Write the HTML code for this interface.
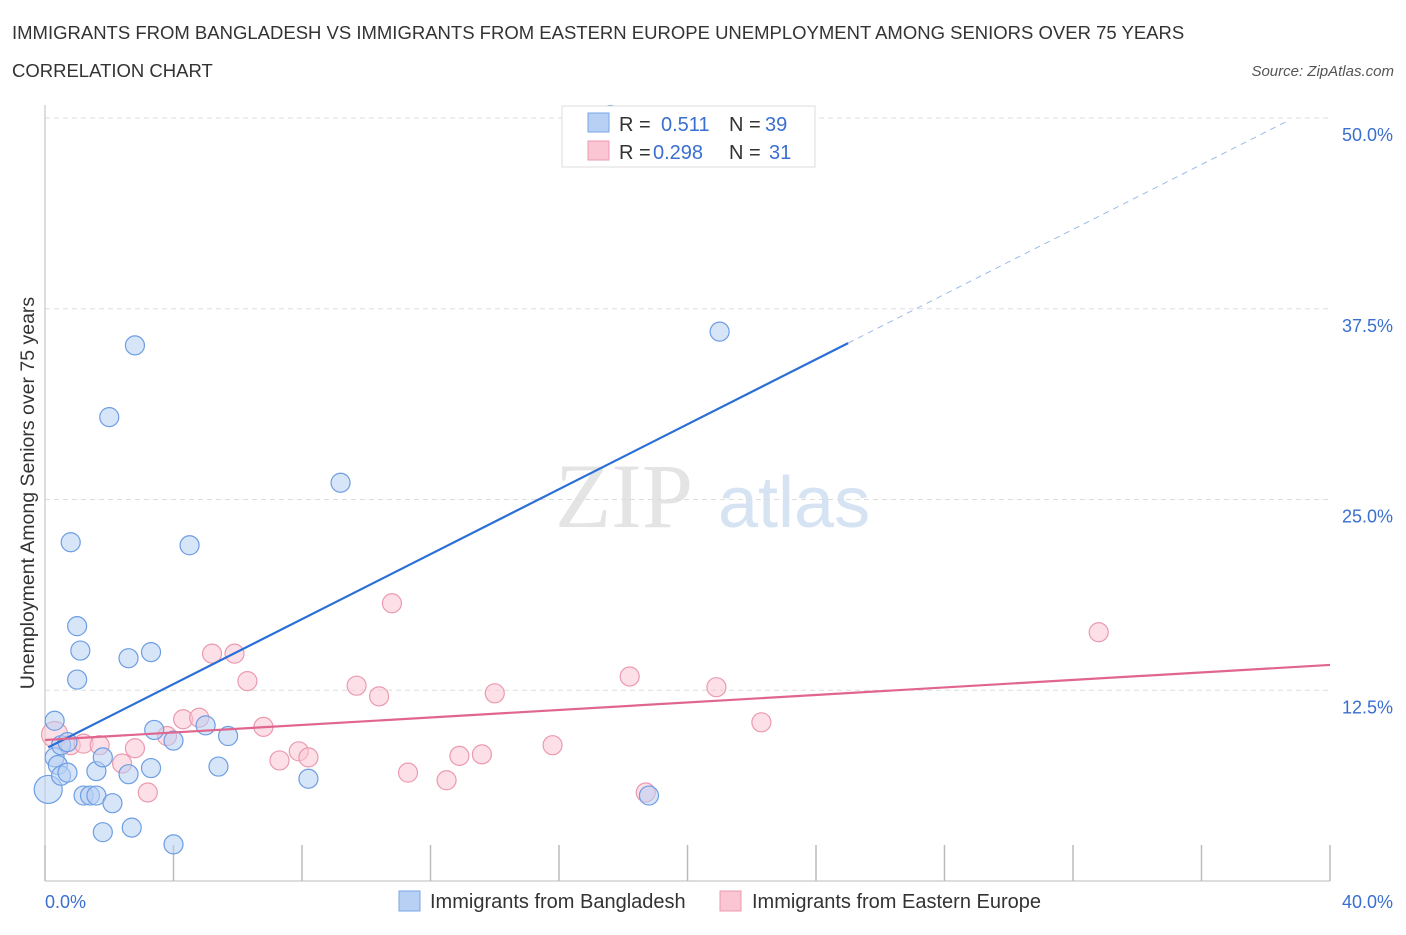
<!DOCTYPE html>
<html><head><meta charset="utf-8"><style>
body{margin:0;background:#fff;font-family:"Liberation Sans",sans-serif;}
</style></head><body>
<svg width="1406" height="930" viewBox="0 0 1406 930" xmlns="http://www.w3.org/2000/svg" font-family="Liberation Sans, sans-serif">
<text x="12" y="39" font-size="18.5" fill="#333">IMMIGRANTS FROM BANGLADESH VS IMMIGRANTS FROM EASTERN EUROPE UNEMPLOYMENT AMONG SENIORS OVER 75 YEARS</text>
<text x="12" y="77" font-size="18.5" fill="#333">CORRELATION CHART</text>
<text x="1394" y="76" font-size="15" font-style="italic" fill="#555" text-anchor="end">Source: ZipAtlas.com</text>
<g><text x="555" y="527" font-size="92" font-family="Liberation Serif, serif" fill="#e4e4e4">ZIP</text><text x="718" y="527" font-size="72" fill="#d6e3f3">atlas</text></g>
<g id="grid"></g>
<g id="axes"></g>
<g id="marks"></g>
<text transform="translate(34,493) rotate(-90)" font-size="19.5" fill="#333" text-anchor="middle">Unemployment Among Seniors over 75 years</text>
<g>
<rect x="562" y="106" width="253" height="61" fill="#fff" stroke="#ddd"/>
<rect x="588" y="113" width="21" height="19" fill="#b7d0f4" stroke="#7aa6e6"/>
<rect x="588" y="141" width="21" height="19" fill="#fbc6d4" stroke="#eb9ab0"/>
<text x="619" y="131" font-size="20" fill="#333">R = </text><text x="661" y="131" font-size="20" fill="#3a6fd0">0.511</text>
<text x="729" y="131" font-size="20" fill="#333">N = </text><text x="765" y="131" font-size="20" fill="#3a6fd0">39</text>
<text x="619" y="159" font-size="20" fill="#333">R = </text><text x="653" y="159" font-size="20" fill="#3a6fd0">0.298</text>
<text x="729" y="159" font-size="20" fill="#333">N = </text><text x="769" y="159" font-size="20" fill="#3a6fd0">31</text>
</g>
<g>
<rect x="399" y="891" width="21" height="20" fill="#b7d0f4" stroke="#7aa6e6"/>
<text x="430" y="908" font-size="20" fill="#333">Immigrants from Bangladesh</text>
<rect x="720" y="891" width="21" height="20" fill="#fbc6d4" stroke="#eb9ab0"/>
<text x="752" y="908" font-size="20" fill="#333">Immigrants from Eastern Europe</text>
</g>
<script>
const yTicks=[12.5,25,37.5,50];
const yTickLabels=["12.5%","25.0%","37.5%","50.0%"];
const xTickCount=[0,4,8,12,16,20,24,28,32,36,40];
const xLabels=["0.0%","40.0%"];
const blueX=[0.1,0.3,0.3,0.5,0.7,0.4,0.5,0.7,0.8,1.0,1.1,1.0,2.0,2.8,1.6,1.8,1.2,1.4,1.6,2.1,1.8,2.7,2.6,2.6,3.3,3.3,3.4,4.0,4.0,4.5,5.0,5.4,5.7,8.2,9.2,18.8,21.0,17.6];
const blueY=[6.0,10.5,8.1,8.9,9.1,7.6,6.9,7.1,22.2,16.7,15.1,13.2,30.4,35.1,7.2,8.1,5.6,5.6,5.6,5.1,3.2,3.5,7.0,14.6,15.0,7.4,9.9,9.2,2.4,22.0,10.2,7.5,9.5,6.7,26.1,5.6,36.0,50.2];
const pinkX=[0.3,0.8,1.2,1.7,2.4,2.8,3.2,3.8,4.3,4.8,5.2,5.9,6.3,6.8,7.3,7.9,8.2,9.7,10.4,10.8,11.3,12.5,12.9,13.6,14.0,15.8,18.2,18.7,20.9,22.3,32.8];
const pinkY=[9.6,8.9,9.0,8.9,7.7,8.7,5.8,9.5,10.6,10.7,14.9,14.9,13.1,10.1,7.9,8.5,8.1,12.8,12.1,18.2,7.1,6.6,8.2,8.3,12.3,8.9,13.4,5.8,12.7,10.4,16.3];
const blueTrend=[8.65,1.064];
const pinkTrend=[9.24,0.123];
const X=v=>45+v*1285/40, Y=v=>881-v*763/50;
const NS="http://www.w3.org/2000/svg";
function mk(p,t,a){const e=document.createElementNS(NS,t);for(const k in a)e.setAttribute(k,a[k]);p.appendChild(e);return e;}
const grid=document.getElementById('grid'),axes=document.getElementById('axes'),marks=document.getElementById('marks');
yTicks.forEach((v,i)=>{
 const l=mk(grid,'line',{x1:45,x2:1330,y1:Y(v),y2:Y(v),stroke:'#ddd','stroke-dasharray':'5,4'});
 
 
 const t=mk(axes,'text',{x:1393,y:Y(v)+23,'font-size':18,fill:'#3a6fd0','text-anchor':'end'});t.textContent=yTickLabels[i];
 
 
});
const ax=mk(axes,'line',{x1:45,x2:1330,y1:881,y2:881,stroke:'#bbb'});


const ay=mk(axes,'line',{x1:45,x2:45,y1:105,y2:881,stroke:'#bbb'});


xTickCount.forEach(v=>{const t=mk(axes,'line',{x1:X(v),x2:X(v),y1:845,y2:881,stroke:'#bbb','stroke-width':1.5});
 
 });
[[0,45,'start'],[1,1393,'end']].forEach(([i,x,a])=>{const t=mk(axes,'text',{x:x,y:908,'font-size':18,fill:'#3a6fd0','text-anchor':a});t.textContent=xLabels[i];
 
 });
function dots(xs,ys,fill,stroke,name){xs.forEach((x,i)=>{const r=(x<0.2)?14:(x<0.5&&i===0?13:9.5);
 const c=mk(marks,'circle',{cx:X(x),cy:Y(ys[i]),r:r,fill:fill,'fill-opacity':0.55,stroke:stroke,'stroke-width':1.2});
 
 });}
dots(pinkX,pinkY,'#fbc6d4','#eb9ab0','point-eastern-europe');
dots(blueX,blueY,'#b7d0f4','#6d9de3','point-bangladesh');
const bt=x=>blueTrend[0]+blueTrend[1]*x, pt=x=>pinkTrend[0]+pinkTrend[1]*x;
const b1=mk(marks,'line',{x1:X(0.1),y1:Y(bt(0.1)),x2:X(25),y2:Y(bt(25)),stroke:'#2a6fd6','stroke-width':2.2});


const b2=mk(marks,'line',{x1:X(25),y1:Y(bt(25)),x2:X(38.7),y2:Y(bt(38.7)),stroke:'#9bbbe8','stroke-width':1,'stroke-dasharray':'6,5'});


const p1=mk(marks,'line',{x1:X(0),y1:Y(pt(0)),x2:X(40),y2:Y(pt(40)),stroke:'#e0668e','stroke-width':2.2});


</script>
</svg>
</body></html>
